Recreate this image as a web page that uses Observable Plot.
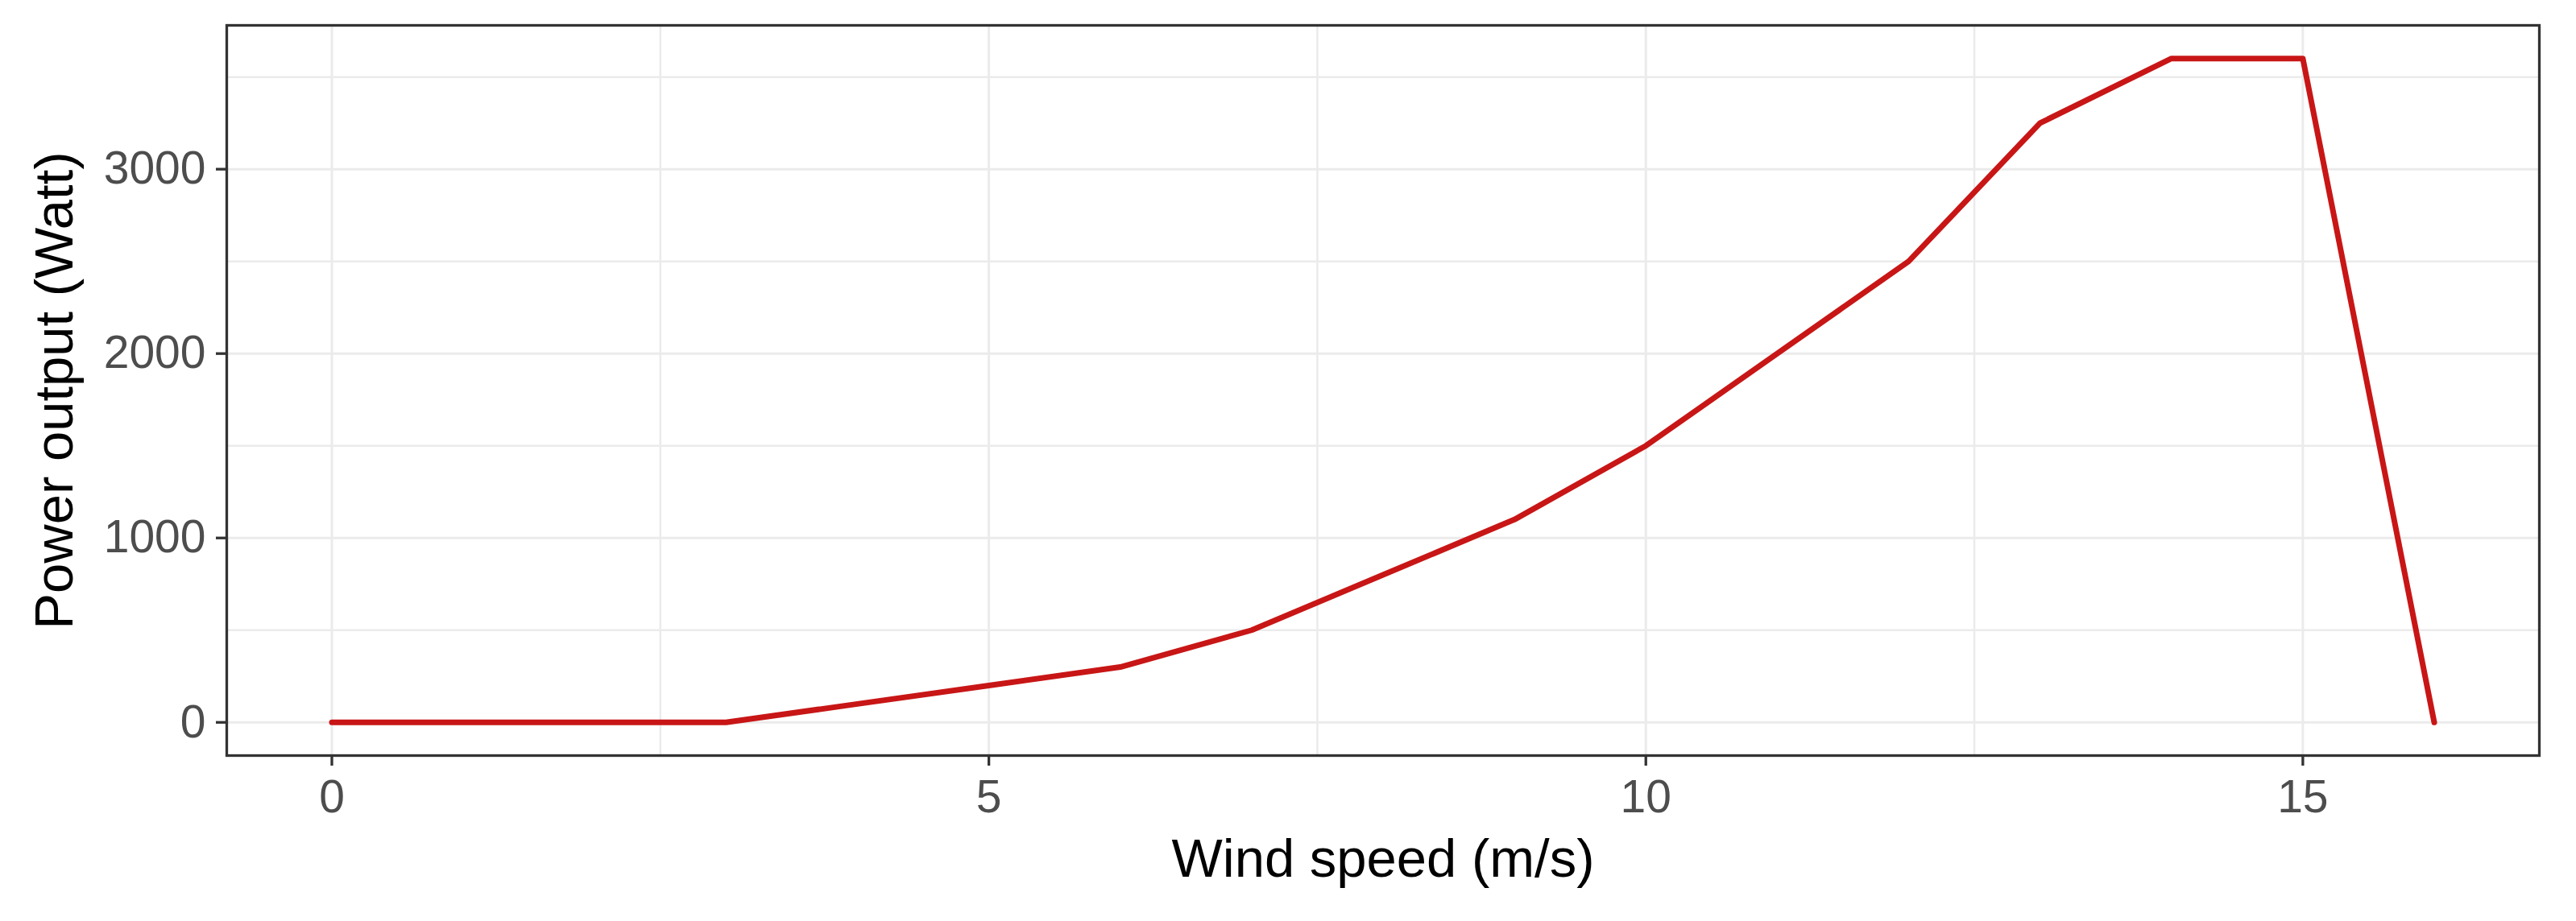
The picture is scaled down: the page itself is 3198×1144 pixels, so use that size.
<!DOCTYPE html>
<html><head><meta charset="utf-8">
<script src="https://cdn.jsdelivr.net/npm/d3@7"></script>
<script src="https://cdn.jsdelivr.net/npm/@observablehq/plot@0.6"></script>
<style>html,body{margin:0;padding:0;background:#fff;} svg{display:block}</style>
</head><body><div id="chart"></div>
<script>
const windSpeed = [0, 1, 2, 3, 4, 5, 6, 7, 8, 9, 10, 11, 12, 13, 14, 15, 16];
const powerOutput = [0, 0, 0, 0, 100, 200, 300, 500, 800, 1100, 1500, 2000, 2500, 3250, 3600, 3600, 0];
const xTicks = [0, 5, 10, 15];
const xMinor = [2.5, 7.5, 12.5];
const yTicks = [0, 1000, 2000, 3000];
const yMinor = [500, 1500, 2500, 3500];
const xLabel = "Wind speed (m/s)";
const yLabel = "Power output (Watt)";

const data = windSpeed.map((x, i) => ({x, y: powerOutput[i]}));

const grid = {stroke: "#ebebeb", strokeOpacity: 1};
const fmt = d3.format("d");
const chart = Plot.plot({
  width: 3198, height: 1144,
  marginLeft: 281, marginRight: 46, marginTop: 31, marginBottom: 206,
  style: {fontFamily: "'Liberation Sans', Arial, sans-serif", background: "#fff"},
  x: {domain: [-0.8, 16.8]},
  y: {domain: [-180, 3780]},
  marks: [
    Plot.gridX(xMinor, {...grid, strokeWidth: 2.5}),
    Plot.gridY(yMinor, {...grid, strokeWidth: 2.5}),
    Plot.gridX(xTicks, {...grid, strokeWidth: 3}),
    Plot.gridY(yTicks, {...grid, strokeWidth: 3}),
    Plot.line(data, {x: "x", y: "y", stroke: "#c81616", strokeWidth: 7, strokeLinejoin: "round"}),
    Plot.frame({stroke: "#333333", strokeWidth: 3.3}),
    Plot.axisX(xTicks, {tickSize: 13, strokeWidth: 3.3, stroke: "#333333", fill: "#4d4d4d", fontSize: 57, tickPadding: 17, tickFormat: fmt, label: null}),
    Plot.axisY(yTicks, {tickSize: 13, strokeWidth: 3.3, stroke: "#333333", fill: "#4d4d4d", fontSize: 57, tickPadding: 13, tickFormat: fmt, label: null}),
    Plot.text([xLabel], {text: d => d, frameAnchor: "bottom", dy: 129, fontSize: 67, fill: "#000", lineAnchor: "middle", textAnchor: "middle"}),
    Plot.text([yLabel], {text: d => d, frameAnchor: "left", dx: -213, rotate: -90, fontSize: 67, fill: "#000", lineAnchor: "middle", textAnchor: "middle"})
  ]
});
document.getElementById("chart").appendChild(chart);
</script>
</body></html>
